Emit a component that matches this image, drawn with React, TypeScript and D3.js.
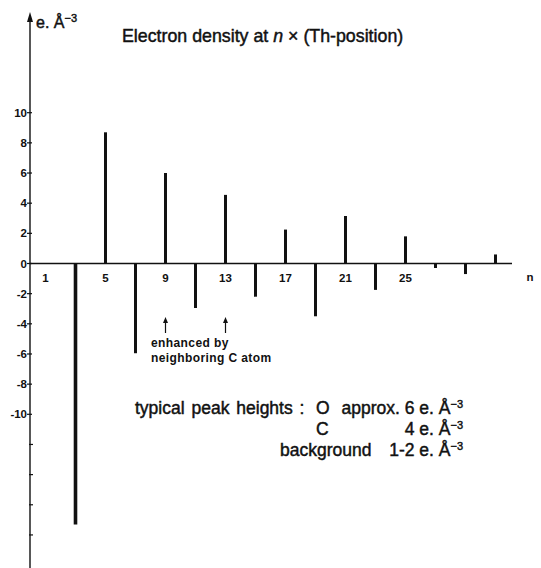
import React from "react";
import * as d3 from "d3";

// n multiples of the Th position and peak height (e. Å^-3)
const positions = [3, 5, 7, 9, 11, 13, 15, 17, 19, 21, 23, 25, 27, 29, 31];
const densities = [-17.3, 8.7, -5.95, 6.0, -2.95, 4.55, -2.2, 2.25, -3.5, 3.15, -1.75, 1.8, -0.3, -0.7, 0.6];
const xTickLabels = [1, 5, 9, 13, 17, 21, 25];
const yTickLabels = [10, 8, 6, 4, 2, 0, -2, -4, -6, -8, -10];
const yTicksUnlabeled = [-12, -14, -16, -18];
const enhancedAt = [9, 13];

const W = 541;
const H = 568;
const FONT = "'Liberation Sans', Arial, sans-serif";
// scanned Helvetica looks a bit heavier than regular
const heavy = { stroke: "#111", strokeWidth: 0.45 };

const Sup = () => (
  <tspan fontSize={11} dy={-6}>−3</tspan>
);

const App = () => {
  const x = d3.scaleLinear().domain([5, 25]).range([105.5, 405.5]);
  const y = d3.scaleLinear().domain([0, 10]).range([263.5, 112.7]);
  const axisX = 30;

  return (
    <svg width={W} height={H} style={{ position: "absolute", left: 0, top: 0 }}>
      <rect width={W} height={H} fill="#fff" />
      <g fontFamily={FONT} fill="#111">
        {/* y axis with arrow */}
        <line x1={axisX} x2={axisX} y1={H} y2={18} stroke="#111" strokeWidth={1.4} />
        <path d={`M${axisX - 3},${22} L${axisX},${12} L${axisX + 3},${22} Z`} fill="#111" />
        <text x={36} y={28} fontSize={16} {...heavy}>
          e. Å<Sup />
        </text>

        {yTickLabels.map((v) => (
          <g key={v}>
            <line x1={axisX - 3} x2={axisX + 2} y1={y(v)} y2={y(v)} stroke="#111" strokeWidth={1.2} />
            <text x={axisX - 3} y={y(v) + 4} fontSize={11.5} fontWeight="bold" textAnchor="end">
              {v < 0 ? `-${-v}` : v}
            </text>
          </g>
        ))}
        {yTicksUnlabeled.map((v) => (
          <line key={v} x1={axisX - 1} x2={axisX + 3} y1={y(v)} y2={y(v)} stroke="#111" strokeWidth={1.2} />
        ))}

        {/* x axis */}
        <line x1={axisX} x2={512} y1={y(0)} y2={y(0)} stroke="#111" strokeWidth={1.4} />
        {xTickLabels.map((n) => (
          <text key={n} x={x(n)} y={y(0) + 18} fontSize={11.5} fontWeight="bold" textAnchor="middle">
            {n}
          </text>
        ))}
        <text x={530} y={y(0) + 17} fontSize={11.5} fontWeight="bold" textAnchor="middle">n</text>

        {/* peaks */}
        {positions.map((n, i) => (
          <line
            key={n}
            x1={x(n)}
            x2={x(n)}
            y1={y(0)}
            y2={y(densities[i])}
            stroke="#111"
            strokeWidth={n === 3 ? 3.6 : 3}
          />
        ))}

        {/* title */}
        <text x={122} y={42} fontSize={17.8} {...heavy}>
          Electron density at <tspan fontStyle="italic">n</tspan> × (Th-position)
        </text>

        {/* enhanced annotation */}
        {enhancedAt.map((n) => (
          <g key={n}>
            <line x1={x(n)} x2={x(n)} y1={333} y2={320} stroke="#111" strokeWidth={1.2} />
            <path d={`M${x(n) - 2.5},${323} L${x(n)},${317} L${x(n) + 2.5},${323} Z`} fill="#111" />
          </g>
        ))}
        <text x={151} y={347} fontSize={12} fontWeight="bold" letterSpacing={0.4}>enhanced by</text>
        <text x={151} y={362} fontSize={12} fontWeight="bold" letterSpacing={0.4}>neighboring C atom</text>

        {/* typical peak heights */}
        <text x={135} y={414} fontSize={17.5} wordSpacing={2} {...heavy}>
          typical peak heights :
        </text>
        <text x={316} y={414} fontSize={17.5} {...heavy}>O</text>
        <text x={463} y={414} fontSize={17.5} textAnchor="end" {...heavy}>
          approx. 6 e. Å<Sup />
        </text>
        <text x={316} y={435} fontSize={17.5} {...heavy}>C</text>
        <text x={463} y={435} fontSize={17.5} textAnchor="end" {...heavy}>
          4 e. Å<Sup />
        </text>
        <text x={280} y={456} fontSize={17.5} {...heavy}>background</text>
        <text x={463} y={456} fontSize={17.5} textAnchor="end" {...heavy}>
          1-2 e. Å<Sup />
        </text>
      </g>
    </svg>
  );
};

export default App;
